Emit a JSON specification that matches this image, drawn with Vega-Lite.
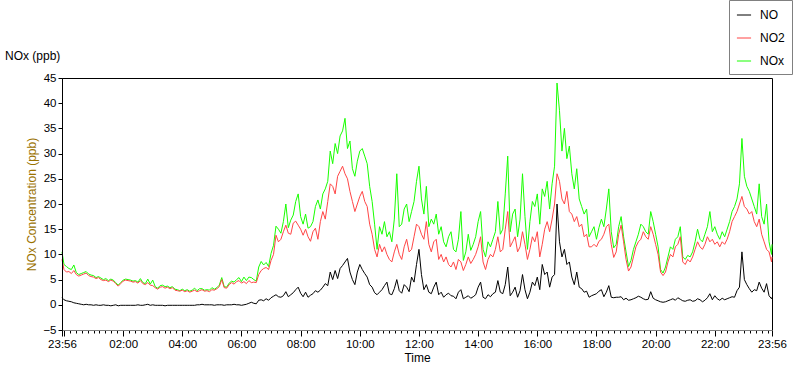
{
  "$schema": "https://vega.github.io/schema/vega-lite/v6.json",
  "width": 710,
  "height": 252,
  "autosize": {"type": "none"},
  "padding": {"left": 62, "top": 78, "right": 28, "bottom": 39},
  "background": "white",
  "config": {
    "view": {"stroke": "#000000", "strokeWidth": 1},
    "font": "Liberation Sans",
    "axis": {"labelFont": "Liberation Sans", "titleFont": "Liberation Sans", "labelColor": "black", "tickColor": "black", "grid": false}
  },
  "title": {"text": "NOx (ppb)", "anchor": "start", "frame": "group", "dx": -57, "offset": -63, "font": "Liberation Sans", "fontSize": 12, "fontWeight": "normal", "color": "black"},
  "data": {"values": [
    {"t":"2024-01-01T23:56","NO":1.4,"NO2":9.0,"NOx":10.5},
    {"t":"2024-01-02T00:00","NO":1.0,"NO2":7.0,"NOx":8.0},
    {"t":"2024-01-02T00:05","NO":0.8,"NO2":6.5,"NOx":7.6},
    {"t":"2024-01-02T00:10","NO":0.7,"NO2":6.6,"NOx":7.2},
    {"t":"2024-01-02T00:15","NO":0.6,"NO2":6.2,"NOx":7.0},
    {"t":"2024-01-02T00:20","NO":0.4,"NO2":6.8,"NOx":7.9},
    {"t":"2024-01-02T00:25","NO":0.3,"NO2":6.0,"NOx":6.4},
    {"t":"2024-01-02T00:30","NO":0.2,"NO2":5.7,"NOx":6.0},
    {"t":"2024-01-02T00:35","NO":0.1,"NO2":5.9,"NOx":6.2},
    {"t":"2024-01-02T00:40","NO":0.0,"NO2":6.1,"NOx":6.4},
    {"t":"2024-01-02T00:45","NO":0.1,"NO2":6.3,"NOx":6.6},
    {"t":"2024-01-02T00:50","NO":0.0,"NO2":5.8,"NOx":6.1},
    {"t":"2024-01-02T00:55","NO":0.0,"NO2":5.6,"NOx":5.9},
    {"t":"2024-01-02T01:00","NO":-0.1,"NO2":5.5,"NOx":5.8},
    {"t":"2024-01-02T01:05","NO":0.0,"NO2":5.2,"NOx":5.4},
    {"t":"2024-01-02T01:10","NO":-0.1,"NO2":5.4,"NOx":5.6},
    {"t":"2024-01-02T01:15","NO":-0.1,"NO2":5.0,"NOx":5.3},
    {"t":"2024-01-02T01:20","NO":0.0,"NO2":4.8,"NOx":5.0},
    {"t":"2024-01-02T01:25","NO":-0.1,"NO2":4.9,"NOx":5.2},
    {"t":"2024-01-02T01:30","NO":-0.1,"NO2":4.6,"NOx":4.8},
    {"t":"2024-01-02T01:35","NO":-0.2,"NO2":4.9,"NOx":5.1},
    {"t":"2024-01-02T01:40","NO":-0.1,"NO2":4.7,"NOx":4.9},
    {"t":"2024-01-02T01:45","NO":0.0,"NO2":4.2,"NOx":4.4},
    {"t":"2024-01-02T01:50","NO":-0.2,"NO2":3.7,"NOx":3.9},
    {"t":"2024-01-02T01:55","NO":-0.1,"NO2":4.2,"NOx":4.4},
    {"t":"2024-01-02T02:00","NO":-0.1,"NO2":4.7,"NOx":4.9},
    {"t":"2024-01-02T02:05","NO":-0.1,"NO2":4.9,"NOx":5.1},
    {"t":"2024-01-02T02:10","NO":-0.1,"NO2":4.8,"NOx":5.0},
    {"t":"2024-01-02T02:15","NO":-0.1,"NO2":4.7,"NOx":4.9},
    {"t":"2024-01-02T02:20","NO":-0.1,"NO2":4.5,"NOx":4.7},
    {"t":"2024-01-02T02:25","NO":-0.1,"NO2":4.6,"NOx":4.8},
    {"t":"2024-01-02T02:30","NO":0.0,"NO2":4.3,"NOx":4.5},
    {"t":"2024-01-02T02:35","NO":-0.1,"NO2":4.8,"NOx":5.2},
    {"t":"2024-01-02T02:40","NO":-0.1,"NO2":4.2,"NOx":4.4},
    {"t":"2024-01-02T02:45","NO":0.0,"NO2":4.0,"NOx":4.2},
    {"t":"2024-01-02T02:50","NO":0.1,"NO2":4.4,"NOx":5.1},
    {"t":"2024-01-02T02:55","NO":-0.1,"NO2":3.9,"NOx":4.1},
    {"t":"2024-01-02T03:00","NO":0.0,"NO2":3.8,"NOx":4.9},
    {"t":"2024-01-02T03:05","NO":-0.1,"NO2":3.4,"NOx":3.6},
    {"t":"2024-01-02T03:10","NO":-0.1,"NO2":3.1,"NOx":3.3},
    {"t":"2024-01-02T03:15","NO":-0.1,"NO2":3.5,"NOx":3.8},
    {"t":"2024-01-02T03:20","NO":-0.1,"NO2":3.6,"NOx":3.9},
    {"t":"2024-01-02T03:25","NO":-0.2,"NO2":3.3,"NOx":3.6},
    {"t":"2024-01-02T03:30","NO":-0.1,"NO2":3.5,"NOx":3.7},
    {"t":"2024-01-02T03:35","NO":-0.1,"NO2":3.2,"NOx":3.4},
    {"t":"2024-01-02T03:40","NO":-0.1,"NO2":3.4,"NOx":3.6},
    {"t":"2024-01-02T03:45","NO":-0.1,"NO2":2.9,"NOx":3.1},
    {"t":"2024-01-02T03:50","NO":-0.1,"NO2":2.8,"NOx":3.0},
    {"t":"2024-01-02T03:55","NO":-0.1,"NO2":2.7,"NOx":2.8},
    {"t":"2024-01-02T04:00","NO":-0.1,"NO2":2.9,"NOx":3.1},
    {"t":"2024-01-02T04:05","NO":-0.1,"NO2":2.6,"NOx":2.8},
    {"t":"2024-01-02T04:10","NO":-0.1,"NO2":2.8,"NOx":3.0},
    {"t":"2024-01-02T04:15","NO":-0.1,"NO2":2.5,"NOx":2.7},
    {"t":"2024-01-02T04:20","NO":-0.1,"NO2":2.7,"NOx":2.9},
    {"t":"2024-01-02T04:25","NO":-0.1,"NO2":2.9,"NOx":3.3},
    {"t":"2024-01-02T04:30","NO":0.0,"NO2":2.6,"NOx":2.8},
    {"t":"2024-01-02T04:35","NO":0.0,"NO2":2.8,"NOx":3.2},
    {"t":"2024-01-02T04:40","NO":0.1,"NO2":3.0,"NOx":3.2},
    {"t":"2024-01-02T04:45","NO":0.0,"NO2":2.7,"NOx":2.9},
    {"t":"2024-01-02T04:50","NO":0.0,"NO2":2.8,"NOx":3.0},
    {"t":"2024-01-02T04:55","NO":0.0,"NO2":2.6,"NOx":2.9},
    {"t":"2024-01-02T05:00","NO":0.0,"NO2":3.0,"NOx":3.4},
    {"t":"2024-01-02T05:05","NO":-0.1,"NO2":2.9,"NOx":3.1},
    {"t":"2024-01-02T05:10","NO":0.0,"NO2":3.2,"NOx":3.4},
    {"t":"2024-01-02T05:15","NO":0.0,"NO2":3.6,"NOx":3.9},
    {"t":"2024-01-02T05:20","NO":0.0,"NO2":5.0,"NOx":5.4},
    {"t":"2024-01-02T05:25","NO":-0.1,"NO2":3.4,"NOx":3.6},
    {"t":"2024-01-02T05:30","NO":0.0,"NO2":3.3,"NOx":3.5},
    {"t":"2024-01-02T05:35","NO":0.0,"NO2":4.0,"NOx":4.3},
    {"t":"2024-01-02T05:40","NO":0.0,"NO2":4.4,"NOx":4.7},
    {"t":"2024-01-02T05:45","NO":0.1,"NO2":4.1,"NOx":4.5},
    {"t":"2024-01-02T05:50","NO":0.0,"NO2":4.6,"NOx":5.0},
    {"t":"2024-01-02T05:55","NO":0.0,"NO2":4.8,"NOx":5.4},
    {"t":"2024-01-02T06:00","NO":-0.1,"NO2":4.3,"NOx":4.6},
    {"t":"2024-01-02T06:05","NO":0.0,"NO2":4.6,"NOx":5.5},
    {"t":"2024-01-02T06:10","NO":0.1,"NO2":4.2,"NOx":4.8},
    {"t":"2024-01-02T06:15","NO":0.3,"NO2":4.8,"NOx":5.5},
    {"t":"2024-01-02T06:20","NO":0.5,"NO2":4.4,"NOx":5.4},
    {"t":"2024-01-02T06:25","NO":0.3,"NO2":4.5,"NOx":5.0},
    {"t":"2024-01-02T06:30","NO":0.2,"NO2":4.4,"NOx":4.7},
    {"t":"2024-01-02T06:35","NO":0.9,"NO2":6.0,"NOx":7.5},
    {"t":"2024-01-02T06:40","NO":1.0,"NO2":6.8,"NOx":8.6},
    {"t":"2024-01-02T06:45","NO":0.8,"NO2":7.2,"NOx":7.9},
    {"t":"2024-01-02T06:50","NO":1.2,"NO2":7.4,"NOx":8.4},
    {"t":"2024-01-02T06:55","NO":0.9,"NO2":7.0,"NOx":7.6},
    {"t":"2024-01-02T07:00","NO":1.4,"NO2":8.8,"NOx":10.2},
    {"t":"2024-01-02T07:05","NO":1.7,"NO2":10.0,"NOx":11.8},
    {"t":"2024-01-02T07:10","NO":2.0,"NO2":13.8,"NOx":15.6},
    {"t":"2024-01-02T07:15","NO":1.6,"NO2":12.5,"NOx":15.0},
    {"t":"2024-01-02T07:20","NO":1.5,"NO2":13.0,"NOx":14.2},
    {"t":"2024-01-02T07:25","NO":1.8,"NO2":14.5,"NOx":16.5},
    {"t":"2024-01-02T07:30","NO":2.6,"NO2":15.8,"NOx":20.0},
    {"t":"2024-01-02T07:35","NO":1.6,"NO2":14.2,"NOx":15.3},
    {"t":"2024-01-02T07:40","NO":2.0,"NO2":14.0,"NOx":16.8},
    {"t":"2024-01-02T07:45","NO":2.4,"NO2":16.2,"NOx":17.8},
    {"t":"2024-01-02T07:50","NO":3.0,"NO2":16.6,"NOx":20.5},
    {"t":"2024-01-02T07:55","NO":3.5,"NO2":15.8,"NOx":22.0},
    {"t":"2024-01-02T08:00","NO":2.3,"NO2":15.0,"NOx":17.5},
    {"t":"2024-01-02T08:05","NO":1.6,"NO2":13.8,"NOx":16.0},
    {"t":"2024-01-02T08:10","NO":2.5,"NO2":15.0,"NOx":18.0},
    {"t":"2024-01-02T08:15","NO":1.5,"NO2":13.5,"NOx":15.2},
    {"t":"2024-01-02T08:20","NO":1.9,"NO2":12.6,"NOx":15.5},
    {"t":"2024-01-02T08:25","NO":2.2,"NO2":14.5,"NOx":16.5},
    {"t":"2024-01-02T08:30","NO":2.8,"NO2":15.2,"NOx":19.5},
    {"t":"2024-01-02T08:35","NO":2.5,"NO2":13.0,"NOx":20.8},
    {"t":"2024-01-02T08:40","NO":2.9,"NO2":16.5,"NOx":19.0},
    {"t":"2024-01-02T08:45","NO":3.5,"NO2":18.5,"NOx":22.0},
    {"t":"2024-01-02T08:50","NO":4.2,"NO2":17.0,"NOx":23.0},
    {"t":"2024-01-02T08:55","NO":3.8,"NO2":20.5,"NOx":24.5},
    {"t":"2024-01-02T09:00","NO":6.5,"NO2":24.0,"NOx":30.5},
    {"t":"2024-01-02T09:05","NO":5.0,"NO2":23.5,"NOx":28.0},
    {"t":"2024-01-02T09:10","NO":6.8,"NO2":22.0,"NOx":32.0},
    {"t":"2024-01-02T09:15","NO":5.2,"NO2":25.5,"NOx":30.0},
    {"t":"2024-01-02T09:20","NO":7.2,"NO2":26.5,"NOx":33.5},
    {"t":"2024-01-02T09:25","NO":7.8,"NO2":27.5,"NOx":34.5},
    {"t":"2024-01-02T09:30","NO":8.5,"NO2":26.0,"NOx":37.0},
    {"t":"2024-01-02T09:35","NO":9.2,"NO2":25.0,"NOx":31.0},
    {"t":"2024-01-02T09:40","NO":6.5,"NO2":22.5,"NOx":32.5},
    {"t":"2024-01-02T09:45","NO":5.0,"NO2":20.5,"NOx":27.0},
    {"t":"2024-01-02T09:50","NO":4.0,"NO2":18.5,"NOx":25.5},
    {"t":"2024-01-02T09:55","NO":6.5,"NO2":20.0,"NOx":28.5},
    {"t":"2024-01-02T10:00","NO":8.0,"NO2":21.5,"NOx":30.5},
    {"t":"2024-01-02T10:05","NO":7.0,"NO2":22.5,"NOx":31.0},
    {"t":"2024-01-02T10:10","NO":6.2,"NO2":20.5,"NOx":29.5},
    {"t":"2024-01-02T10:15","NO":5.5,"NO2":19.5,"NOx":28.0},
    {"t":"2024-01-02T10:20","NO":4.0,"NO2":16.0,"NOx":23.5},
    {"t":"2024-01-02T10:25","NO":3.5,"NO2":14.0,"NOx":20.5},
    {"t":"2024-01-02T10:30","NO":2.4,"NO2":11.0,"NOx":16.0},
    {"t":"2024-01-02T10:35","NO":2.0,"NO2":9.5,"NOx":11.0},
    {"t":"2024-01-02T10:40","NO":2.5,"NO2":12.0,"NOx":15.5},
    {"t":"2024-01-02T10:45","NO":3.0,"NO2":10.5,"NOx":14.0},
    {"t":"2024-01-02T10:50","NO":3.8,"NO2":11.5,"NOx":16.5},
    {"t":"2024-01-02T10:55","NO":4.5,"NO2":10.0,"NOx":13.5},
    {"t":"2024-01-02T11:00","NO":2.2,"NO2":9.0,"NOx":14.5},
    {"t":"2024-01-02T11:05","NO":2.0,"NO2":8.5,"NOx":12.5},
    {"t":"2024-01-02T11:10","NO":3.2,"NO2":10.5,"NOx":17.0},
    {"t":"2024-01-02T11:15","NO":5.0,"NO2":12.0,"NOx":26.0},
    {"t":"2024-01-02T11:20","NO":2.8,"NO2":10.0,"NOx":15.5},
    {"t":"2024-01-02T11:25","NO":2.3,"NO2":9.0,"NOx":16.0},
    {"t":"2024-01-02T11:30","NO":4.0,"NO2":11.5,"NOx":19.0},
    {"t":"2024-01-02T11:35","NO":3.5,"NO2":13.0,"NOx":20.0},
    {"t":"2024-01-02T11:40","NO":2.6,"NO2":10.5,"NOx":16.5},
    {"t":"2024-01-02T11:45","NO":5.5,"NO2":11.0,"NOx":18.5},
    {"t":"2024-01-02T11:50","NO":4.5,"NO2":13.5,"NOx":20.5},
    {"t":"2024-01-02T11:55","NO":8.0,"NO2":16.0,"NOx":24.5},
    {"t":"2024-01-02T12:00","NO":11.0,"NO2":15.5,"NOx":27.5},
    {"t":"2024-01-02T12:05","NO":6.0,"NO2":14.0,"NOx":21.0},
    {"t":"2024-01-02T12:10","NO":3.0,"NO2":13.0,"NOx":18.0},
    {"t":"2024-01-02T12:15","NO":4.0,"NO2":16.5,"NOx":23.5},
    {"t":"2024-01-02T12:20","NO":2.5,"NO2":12.0,"NOx":15.5},
    {"t":"2024-01-02T12:25","NO":2.2,"NO2":10.5,"NOx":17.0},
    {"t":"2024-01-02T12:30","NO":3.5,"NO2":12.5,"NOx":16.0},
    {"t":"2024-01-02T12:35","NO":4.5,"NO2":13.0,"NOx":18.0},
    {"t":"2024-01-02T12:40","NO":2.0,"NO2":9.0,"NOx":14.0},
    {"t":"2024-01-02T12:45","NO":2.5,"NO2":10.0,"NOx":15.5},
    {"t":"2024-01-02T12:50","NO":1.5,"NO2":8.5,"NOx":12.5},
    {"t":"2024-01-02T12:55","NO":2.0,"NO2":9.5,"NOx":11.5},
    {"t":"2024-01-02T13:00","NO":2.3,"NO2":8.0,"NOx":13.5},
    {"t":"2024-01-02T13:05","NO":1.8,"NO2":7.5,"NOx":14.5},
    {"t":"2024-01-02T13:10","NO":1.7,"NO2":8.5,"NOx":11.0},
    {"t":"2024-01-02T13:15","NO":1.2,"NO2":7.0,"NOx":10.5},
    {"t":"2024-01-02T13:20","NO":2.5,"NO2":9.0,"NOx":13.0},
    {"t":"2024-01-02T13:25","NO":3.0,"NO2":8.5,"NOx":18.5},
    {"t":"2024-01-02T13:30","NO":1.2,"NO2":6.8,"NOx":8.8},
    {"t":"2024-01-02T13:35","NO":1.5,"NO2":8.0,"NOx":10.5},
    {"t":"2024-01-02T13:40","NO":1.8,"NO2":9.5,"NOx":14.0},
    {"t":"2024-01-02T13:45","NO":1.3,"NO2":8.2,"NOx":10.8},
    {"t":"2024-01-02T13:50","NO":1.6,"NO2":9.0,"NOx":12.0},
    {"t":"2024-01-02T13:55","NO":2.0,"NO2":10.0,"NOx":13.5},
    {"t":"2024-01-02T14:00","NO":3.5,"NO2":11.5,"NOx":16.5},
    {"t":"2024-01-02T14:05","NO":4.5,"NO2":13.5,"NOx":18.5},
    {"t":"2024-01-02T14:10","NO":1.5,"NO2":8.5,"NOx":11.0},
    {"t":"2024-01-02T14:15","NO":1.2,"NO2":7.0,"NOx":9.5},
    {"t":"2024-01-02T14:20","NO":2.0,"NO2":9.0,"NOx":12.5},
    {"t":"2024-01-02T14:25","NO":1.6,"NO2":10.0,"NOx":11.5},
    {"t":"2024-01-02T14:30","NO":2.2,"NO2":9.5,"NOx":13.0},
    {"t":"2024-01-02T14:35","NO":2.5,"NO2":11.0,"NOx":14.5},
    {"t":"2024-01-02T14:40","NO":4.8,"NO2":13.5,"NOx":20.5},
    {"t":"2024-01-02T14:45","NO":2.5,"NO2":10.5,"NOx":14.0},
    {"t":"2024-01-02T14:50","NO":2.2,"NO2":11.0,"NOx":15.0},
    {"t":"2024-01-02T14:55","NO":4.0,"NO2":15.0,"NOx":22.0},
    {"t":"2024-01-02T15:00","NO":7.5,"NO2":18.5,"NOx":29.5},
    {"t":"2024-01-02T15:05","NO":1.8,"NO2":11.5,"NOx":14.5},
    {"t":"2024-01-02T15:10","NO":2.5,"NO2":12.5,"NOx":18.0},
    {"t":"2024-01-02T15:15","NO":3.5,"NO2":13.5,"NOx":19.0},
    {"t":"2024-01-02T15:20","NO":1.5,"NO2":10.5,"NOx":13.5},
    {"t":"2024-01-02T15:25","NO":2.8,"NO2":11.5,"NOx":17.0},
    {"t":"2024-01-02T15:30","NO":6.0,"NO2":14.5,"NOx":26.0},
    {"t":"2024-01-02T15:35","NO":3.0,"NO2":12.0,"NOx":17.5},
    {"t":"2024-01-02T15:40","NO":1.2,"NO2":9.0,"NOx":11.0},
    {"t":"2024-01-02T15:45","NO":2.5,"NO2":11.0,"NOx":16.5},
    {"t":"2024-01-02T15:50","NO":4.5,"NO2":13.5,"NOx":20.5},
    {"t":"2024-01-02T15:55","NO":3.8,"NO2":12.5,"NOx":19.5},
    {"t":"2024-01-02T16:00","NO":5.5,"NO2":14.5,"NOx":22.0},
    {"t":"2024-01-02T16:05","NO":3.0,"NO2":9.5,"NOx":16.0},
    {"t":"2024-01-02T16:10","NO":8.0,"NO2":12.0,"NOx":23.0},
    {"t":"2024-01-02T16:15","NO":6.0,"NO2":15.0,"NOx":21.5},
    {"t":"2024-01-02T16:20","NO":6.5,"NO2":16.5,"NOx":24.5},
    {"t":"2024-01-02T16:25","NO":3.5,"NO2":14.5,"NOx":19.0},
    {"t":"2024-01-02T16:30","NO":5.5,"NO2":17.0,"NOx":24.0},
    {"t":"2024-01-02T16:35","NO":6.0,"NO2":20.0,"NOx":27.5},
    {"t":"2024-01-02T16:40","NO":20.0,"NO2":26.0,"NOx":44.0},
    {"t":"2024-01-02T16:45","NO":12.5,"NO2":24.5,"NOx":38.5},
    {"t":"2024-01-02T16:50","NO":9.5,"NO2":21.0,"NOx":30.5},
    {"t":"2024-01-02T16:55","NO":11.0,"NO2":20.0,"NOx":35.0},
    {"t":"2024-01-02T17:00","NO":8.0,"NO2":22.5,"NOx":29.0},
    {"t":"2024-01-02T17:05","NO":8.5,"NO2":18.5,"NOx":31.5},
    {"t":"2024-01-02T17:10","NO":5.5,"NO2":18.0,"NOx":26.0},
    {"t":"2024-01-02T17:15","NO":4.0,"NO2":16.5,"NOx":23.0},
    {"t":"2024-01-02T17:20","NO":6.5,"NO2":17.5,"NOx":27.0},
    {"t":"2024-01-02T17:25","NO":3.5,"NO2":15.5,"NOx":21.0},
    {"t":"2024-01-02T17:30","NO":3.2,"NO2":16.0,"NOx":19.5},
    {"t":"2024-01-02T17:35","NO":2.5,"NO2":13.5,"NOx":18.0},
    {"t":"2024-01-02T17:40","NO":2.7,"NO2":14.0,"NOx":19.0},
    {"t":"2024-01-02T17:45","NO":1.5,"NO2":11.5,"NOx":13.5},
    {"t":"2024-01-02T17:50","NO":1.8,"NO2":11.5,"NOx":14.5},
    {"t":"2024-01-02T17:55","NO":2.0,"NO2":12.0,"NOx":15.5},
    {"t":"2024-01-02T18:00","NO":2.2,"NO2":11.5,"NOx":13.0},
    {"t":"2024-01-02T18:05","NO":2.7,"NO2":12.6,"NOx":15.3},
    {"t":"2024-01-02T18:10","NO":3.0,"NO2":13.0,"NOx":17.0},
    {"t":"2024-01-02T18:15","NO":1.6,"NO2":14.0,"NOx":15.5},
    {"t":"2024-01-02T18:20","NO":2.5,"NO2":15.5,"NOx":19.0},
    {"t":"2024-01-02T18:25","NO":3.8,"NO2":16.0,"NOx":23.0},
    {"t":"2024-01-02T18:30","NO":1.5,"NO2":12.0,"NOx":14.5},
    {"t":"2024-01-02T18:35","NO":1.4,"NO2":9.4,"NOx":11.3},
    {"t":"2024-01-02T18:40","NO":1.5,"NO2":10.5,"NOx":12.0},
    {"t":"2024-01-02T18:45","NO":1.5,"NO2":14.0,"NOx":15.5},
    {"t":"2024-01-02T18:50","NO":1.6,"NO2":15.8,"NOx":17.5},
    {"t":"2024-01-02T18:55","NO":1.0,"NO2":12.5,"NOx":13.5},
    {"t":"2024-01-02T19:00","NO":1.3,"NO2":9.0,"NOx":10.5},
    {"t":"2024-01-02T19:05","NO":0.9,"NO2":6.7,"NOx":7.6},
    {"t":"2024-01-02T19:10","NO":1.0,"NO2":7.5,"NOx":8.8},
    {"t":"2024-01-02T19:15","NO":1.2,"NO2":9.5,"NOx":11.0},
    {"t":"2024-01-02T19:20","NO":1.4,"NO2":11.5,"NOx":12.5},
    {"t":"2024-01-02T19:25","NO":1.7,"NO2":12.5,"NOx":14.0},
    {"t":"2024-01-02T19:30","NO":1.5,"NO2":13.0,"NOx":16.0},
    {"t":"2024-01-02T19:35","NO":1.2,"NO2":14.5,"NOx":15.5},
    {"t":"2024-01-02T19:40","NO":1.0,"NO2":13.5,"NOx":14.5},
    {"t":"2024-01-02T19:45","NO":1.1,"NO2":13.0,"NOx":14.0},
    {"t":"2024-01-02T19:50","NO":2.6,"NO2":15.5,"NOx":18.5},
    {"t":"2024-01-02T19:55","NO":1.3,"NO2":14.0,"NOx":16.5},
    {"t":"2024-01-02T20:00","NO":1.0,"NO2":12.0,"NOx":14.0},
    {"t":"2024-01-02T20:05","NO":0.8,"NO2":10.0,"NOx":11.5},
    {"t":"2024-01-02T20:10","NO":0.6,"NO2":6.5,"NOx":7.0},
    {"t":"2024-01-02T20:15","NO":0.5,"NO2":5.8,"NOx":6.3},
    {"t":"2024-01-02T20:20","NO":0.6,"NO2":6.5,"NOx":7.5},
    {"t":"2024-01-02T20:25","NO":0.8,"NO2":8.5,"NOx":9.5},
    {"t":"2024-01-02T20:30","NO":1.0,"NO2":10.0,"NOx":11.5},
    {"t":"2024-01-02T20:35","NO":1.2,"NO2":9.5,"NOx":11.0},
    {"t":"2024-01-02T20:40","NO":0.9,"NO2":11.5,"NOx":13.0},
    {"t":"2024-01-02T20:45","NO":1.4,"NO2":12.0,"NOx":13.5},
    {"t":"2024-01-02T20:50","NO":1.1,"NO2":13.5,"NOx":15.5},
    {"t":"2024-01-02T20:55","NO":0.8,"NO2":8.5,"NOx":9.5},
    {"t":"2024-01-02T21:00","NO":0.7,"NO2":8.0,"NOx":9.0},
    {"t":"2024-01-02T21:05","NO":0.9,"NO2":9.0,"NOx":9.8},
    {"t":"2024-01-02T21:10","NO":1.0,"NO2":8.5,"NOx":9.5},
    {"t":"2024-01-02T21:15","NO":0.7,"NO2":9.5,"NOx":10.5},
    {"t":"2024-01-02T21:20","NO":0.8,"NO2":11.0,"NOx":12.5},
    {"t":"2024-01-02T21:25","NO":1.2,"NO2":12.5,"NOx":15.0},
    {"t":"2024-01-02T21:30","NO":1.0,"NO2":11.5,"NOx":13.0},
    {"t":"2024-01-02T21:35","NO":0.6,"NO2":11.0,"NOx":12.5},
    {"t":"2024-01-02T21:40","NO":0.9,"NO2":12.0,"NOx":14.0},
    {"t":"2024-01-02T21:45","NO":1.4,"NO2":13.5,"NOx":15.5},
    {"t":"2024-01-02T21:50","NO":2.2,"NO2":12.5,"NOx":18.5},
    {"t":"2024-01-02T21:55","NO":1.0,"NO2":13.0,"NOx":14.5},
    {"t":"2024-01-02T22:00","NO":1.8,"NO2":12.0,"NOx":15.5},
    {"t":"2024-01-02T22:05","NO":1.2,"NO2":12.5,"NOx":14.0},
    {"t":"2024-01-02T22:10","NO":0.9,"NO2":11.5,"NOx":13.0},
    {"t":"2024-01-02T22:15","NO":1.3,"NO2":12.5,"NOx":14.5},
    {"t":"2024-01-02T22:20","NO":1.0,"NO2":12.0,"NOx":13.5},
    {"t":"2024-01-02T22:25","NO":1.2,"NO2":13.0,"NOx":15.0},
    {"t":"2024-01-02T22:30","NO":1.4,"NO2":14.5,"NOx":16.5},
    {"t":"2024-01-02T22:35","NO":1.6,"NO2":16.5,"NOx":18.5},
    {"t":"2024-01-02T22:40","NO":1.5,"NO2":17.5,"NOx":19.5},
    {"t":"2024-01-02T22:45","NO":2.8,"NO2":18.5,"NOx":21.0},
    {"t":"2024-01-02T22:50","NO":3.5,"NO2":20.0,"NOx":24.0},
    {"t":"2024-01-02T22:55","NO":10.5,"NO2":21.5,"NOx":33.0},
    {"t":"2024-01-02T23:00","NO":5.0,"NO2":19.5,"NOx":25.5},
    {"t":"2024-01-02T23:05","NO":4.0,"NO2":19.0,"NOx":23.5},
    {"t":"2024-01-02T23:10","NO":3.2,"NO2":18.0,"NOx":22.5},
    {"t":"2024-01-02T23:15","NO":2.5,"NO2":18.5,"NOx":21.0},
    {"t":"2024-01-02T23:20","NO":3.0,"NO2":16.5,"NOx":19.5},
    {"t":"2024-01-02T23:25","NO":2.8,"NO2":15.5,"NOx":18.0},
    {"t":"2024-01-02T23:30","NO":4.5,"NO2":17.0,"NOx":24.0},
    {"t":"2024-01-02T23:35","NO":3.3,"NO2":14.0,"NOx":17.5},
    {"t":"2024-01-02T23:40","NO":2.5,"NO2":12.5,"NOx":16.0},
    {"t":"2024-01-02T23:45","NO":4.2,"NO2":11.0,"NOx":20.0},
    {"t":"2024-01-02T23:50","NO":1.8,"NO2":10.5,"NOx":12.5},
    {"t":"2024-01-02T23:55","NO":1.2,"NO2":8.5,"NOx":10.0},
    {"t":"2024-01-02T23:56","NO":1.5,"NO2":9.5,"NOx":12.0}
  ]},
  "transform": [{"fold": ["NOx", "NO2", "NO"], "as": ["series", "value"]}],
  "mark": {"type": "line", "strokeWidth": 1},
  "encoding": {
    "x": {"field": "t", "type": "temporal",
      "scale": {"domain": [{"year": 2024, "month": 1, "date": 1, "hours": 23, "minutes": 56}, {"year": 2024, "month": 1, "date": 2, "hours": 23, "minutes": 56}], "nice": false},
      "axis": {"title": "Time", "titleFontSize": 12, "titleFontWeight": "normal", "titleColor": "black", "titlePadding": 3,
        "values": [
          {"year":2024,"month":1,"date":1,"hours":23,"minutes":56},
          {"year":2024,"month":1,"date":2,"hours":0,"minutes":0},{"year":2024,"month":1,"date":2,"hours":0,"minutes":12},{"year":2024,"month":1,"date":2,"hours":0,"minutes":24},{"year":2024,"month":1,"date":2,"hours":0,"minutes":36},{"year":2024,"month":1,"date":2,"hours":0,"minutes":48},
          {"year":2024,"month":1,"date":2,"hours":1,"minutes":0},{"year":2024,"month":1,"date":2,"hours":1,"minutes":12},{"year":2024,"month":1,"date":2,"hours":1,"minutes":24},{"year":2024,"month":1,"date":2,"hours":1,"minutes":36},{"year":2024,"month":1,"date":2,"hours":1,"minutes":48},
          {"year":2024,"month":1,"date":2,"hours":2,"minutes":0},{"year":2024,"month":1,"date":2,"hours":2,"minutes":12},{"year":2024,"month":1,"date":2,"hours":2,"minutes":24},{"year":2024,"month":1,"date":2,"hours":2,"minutes":36},{"year":2024,"month":1,"date":2,"hours":2,"minutes":48},
          {"year":2024,"month":1,"date":2,"hours":3,"minutes":0},{"year":2024,"month":1,"date":2,"hours":3,"minutes":12},{"year":2024,"month":1,"date":2,"hours":3,"minutes":24},{"year":2024,"month":1,"date":2,"hours":3,"minutes":36},{"year":2024,"month":1,"date":2,"hours":3,"minutes":48},
          {"year":2024,"month":1,"date":2,"hours":4,"minutes":0},{"year":2024,"month":1,"date":2,"hours":4,"minutes":12},{"year":2024,"month":1,"date":2,"hours":4,"minutes":24},{"year":2024,"month":1,"date":2,"hours":4,"minutes":36},{"year":2024,"month":1,"date":2,"hours":4,"minutes":48},
          {"year":2024,"month":1,"date":2,"hours":5,"minutes":0},{"year":2024,"month":1,"date":2,"hours":5,"minutes":12},{"year":2024,"month":1,"date":2,"hours":5,"minutes":24},{"year":2024,"month":1,"date":2,"hours":5,"minutes":36},{"year":2024,"month":1,"date":2,"hours":5,"minutes":48},
          {"year":2024,"month":1,"date":2,"hours":6,"minutes":0},{"year":2024,"month":1,"date":2,"hours":6,"minutes":12},{"year":2024,"month":1,"date":2,"hours":6,"minutes":24},{"year":2024,"month":1,"date":2,"hours":6,"minutes":36},{"year":2024,"month":1,"date":2,"hours":6,"minutes":48},
          {"year":2024,"month":1,"date":2,"hours":7,"minutes":0},{"year":2024,"month":1,"date":2,"hours":7,"minutes":12},{"year":2024,"month":1,"date":2,"hours":7,"minutes":24},{"year":2024,"month":1,"date":2,"hours":7,"minutes":36},{"year":2024,"month":1,"date":2,"hours":7,"minutes":48},
          {"year":2024,"month":1,"date":2,"hours":8,"minutes":0},{"year":2024,"month":1,"date":2,"hours":8,"minutes":12},{"year":2024,"month":1,"date":2,"hours":8,"minutes":24},{"year":2024,"month":1,"date":2,"hours":8,"minutes":36},{"year":2024,"month":1,"date":2,"hours":8,"minutes":48},
          {"year":2024,"month":1,"date":2,"hours":9,"minutes":0},{"year":2024,"month":1,"date":2,"hours":9,"minutes":12},{"year":2024,"month":1,"date":2,"hours":9,"minutes":24},{"year":2024,"month":1,"date":2,"hours":9,"minutes":36},{"year":2024,"month":1,"date":2,"hours":9,"minutes":48},
          {"year":2024,"month":1,"date":2,"hours":10,"minutes":0},{"year":2024,"month":1,"date":2,"hours":10,"minutes":12},{"year":2024,"month":1,"date":2,"hours":10,"minutes":24},{"year":2024,"month":1,"date":2,"hours":10,"minutes":36},{"year":2024,"month":1,"date":2,"hours":10,"minutes":48},
          {"year":2024,"month":1,"date":2,"hours":11,"minutes":0},{"year":2024,"month":1,"date":2,"hours":11,"minutes":12},{"year":2024,"month":1,"date":2,"hours":11,"minutes":24},{"year":2024,"month":1,"date":2,"hours":11,"minutes":36},{"year":2024,"month":1,"date":2,"hours":11,"minutes":48},
          {"year":2024,"month":1,"date":2,"hours":12,"minutes":0},{"year":2024,"month":1,"date":2,"hours":12,"minutes":12},{"year":2024,"month":1,"date":2,"hours":12,"minutes":24},{"year":2024,"month":1,"date":2,"hours":12,"minutes":36},{"year":2024,"month":1,"date":2,"hours":12,"minutes":48},
          {"year":2024,"month":1,"date":2,"hours":13,"minutes":0},{"year":2024,"month":1,"date":2,"hours":13,"minutes":12},{"year":2024,"month":1,"date":2,"hours":13,"minutes":24},{"year":2024,"month":1,"date":2,"hours":13,"minutes":36},{"year":2024,"month":1,"date":2,"hours":13,"minutes":48},
          {"year":2024,"month":1,"date":2,"hours":14,"minutes":0},{"year":2024,"month":1,"date":2,"hours":14,"minutes":12},{"year":2024,"month":1,"date":2,"hours":14,"minutes":24},{"year":2024,"month":1,"date":2,"hours":14,"minutes":36},{"year":2024,"month":1,"date":2,"hours":14,"minutes":48},
          {"year":2024,"month":1,"date":2,"hours":15,"minutes":0},{"year":2024,"month":1,"date":2,"hours":15,"minutes":12},{"year":2024,"month":1,"date":2,"hours":15,"minutes":24},{"year":2024,"month":1,"date":2,"hours":15,"minutes":36},{"year":2024,"month":1,"date":2,"hours":15,"minutes":48},
          {"year":2024,"month":1,"date":2,"hours":16,"minutes":0},{"year":2024,"month":1,"date":2,"hours":16,"minutes":12},{"year":2024,"month":1,"date":2,"hours":16,"minutes":24},{"year":2024,"month":1,"date":2,"hours":16,"minutes":36},{"year":2024,"month":1,"date":2,"hours":16,"minutes":48},
          {"year":2024,"month":1,"date":2,"hours":17,"minutes":0},{"year":2024,"month":1,"date":2,"hours":17,"minutes":12},{"year":2024,"month":1,"date":2,"hours":17,"minutes":24},{"year":2024,"month":1,"date":2,"hours":17,"minutes":36},{"year":2024,"month":1,"date":2,"hours":17,"minutes":48},
          {"year":2024,"month":1,"date":2,"hours":18,"minutes":0},{"year":2024,"month":1,"date":2,"hours":18,"minutes":12},{"year":2024,"month":1,"date":2,"hours":18,"minutes":24},{"year":2024,"month":1,"date":2,"hours":18,"minutes":36},{"year":2024,"month":1,"date":2,"hours":18,"minutes":48},
          {"year":2024,"month":1,"date":2,"hours":19,"minutes":0},{"year":2024,"month":1,"date":2,"hours":19,"minutes":12},{"year":2024,"month":1,"date":2,"hours":19,"minutes":24},{"year":2024,"month":1,"date":2,"hours":19,"minutes":36},{"year":2024,"month":1,"date":2,"hours":19,"minutes":48},
          {"year":2024,"month":1,"date":2,"hours":20,"minutes":0},{"year":2024,"month":1,"date":2,"hours":20,"minutes":12},{"year":2024,"month":1,"date":2,"hours":20,"minutes":24},{"year":2024,"month":1,"date":2,"hours":20,"minutes":36},{"year":2024,"month":1,"date":2,"hours":20,"minutes":48},
          {"year":2024,"month":1,"date":2,"hours":21,"minutes":0},{"year":2024,"month":1,"date":2,"hours":21,"minutes":12},{"year":2024,"month":1,"date":2,"hours":21,"minutes":24},{"year":2024,"month":1,"date":2,"hours":21,"minutes":36},{"year":2024,"month":1,"date":2,"hours":21,"minutes":48},
          {"year":2024,"month":1,"date":2,"hours":22,"minutes":0},{"year":2024,"month":1,"date":2,"hours":22,"minutes":12},{"year":2024,"month":1,"date":2,"hours":22,"minutes":24},{"year":2024,"month":1,"date":2,"hours":22,"minutes":36},{"year":2024,"month":1,"date":2,"hours":22,"minutes":48},
          {"year":2024,"month":1,"date":2,"hours":23,"minutes":0},{"year":2024,"month":1,"date":2,"hours":23,"minutes":12},{"year":2024,"month":1,"date":2,"hours":23,"minutes":24},{"year":2024,"month":1,"date":2,"hours":23,"minutes":36},{"year":2024,"month":1,"date":2,"hours":23,"minutes":48},
          {"year":2024,"month":1,"date":2,"hours":23,"minutes":56}
        ],
        "labelExpr": "(minutes(datum.value) == 56 || (minutes(datum.value) == 0 && hours(datum.value) % 2 == 0 && hours(datum.value) > 0)) ? timeFormat(datum.value, '%H:%M') : ''",
        "labelOverlap": false, "labelFlush": false,
        "tickSize": {"condition": {"test": "minutes(datum.value) == 56 || (minutes(datum.value) == 0 && hours(datum.value) % 2 == 0)", "value": 6}, "value": 3},
        "labelFontSize": 11.5, "labelPadding": 2, "tickColor": "black", "domainColor": "#808080", "zindex": 1}},
    "y": {"field": "value", "type": "quantitative",
      "scale": {"domain": [-5, 45], "nice": false, "zero": false},
      "axis": {"title": "NOx Concentration (ppb)", "titleColor": "#9A7200", "titleFontSize": 12, "titleFontWeight": "normal", "titlePadding": 4,
        "values": [-5, 0, 5, 10, 15, 20, 25, 30, 35, 40, 45], "labelFontSize": 11.5, "labelPadding": 2, "tickSize": 4, "domainColor": "black", "tickColor": "black", "zindex": 1}},
    "color": {"field": "series", "type": "nominal",
      "scale": {"domain": ["NO", "NO2", "NOx"], "range": ["#000000", "#FF4545", "#18FF00"]},
      "legend": {"orient": "none", "legendX": 667, "legendY": -78, "title": null, "strokeColor": "#808080", "fillColor": "white", "padding": 7,
        "rowPadding": 9, "labelOffset": 8, "symbolSize": 200, "symbolStrokeWidth": 1,
        "labelFont": "Liberation Sans", "labelFontSize": 12, "labelColor": "black"}}
  }
}
